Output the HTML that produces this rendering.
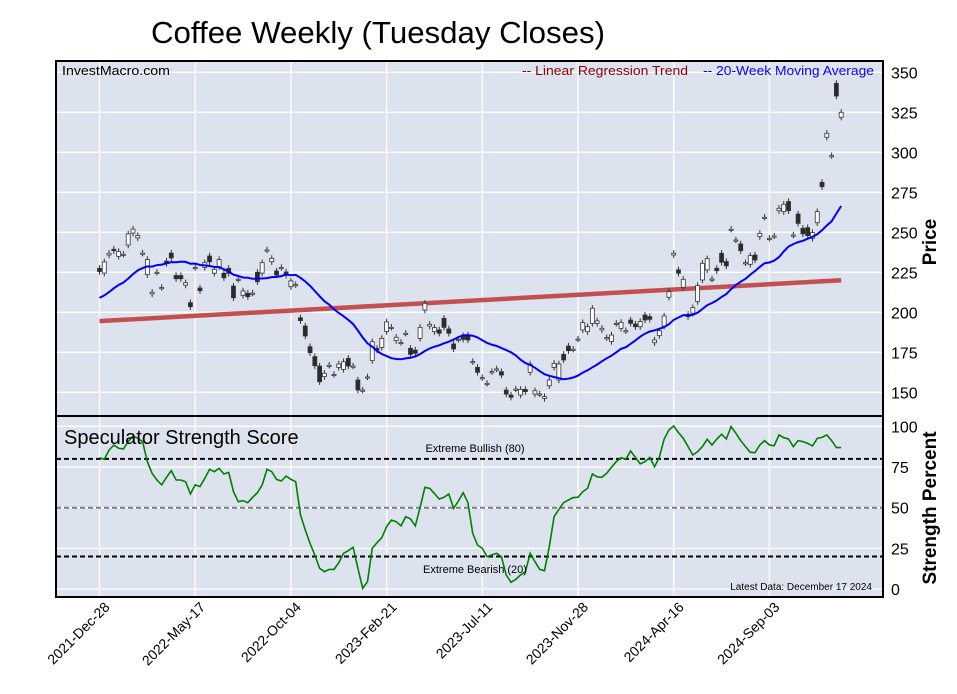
<!DOCTYPE html>
<html><head><meta charset="utf-8"><style>
html,body{margin:0;padding:0;background:#fff;}
svg{display:block;font-family:"Liberation Sans",Arial,sans-serif;}
</style></head><body>
<svg id="chart" width="957" height="694" viewBox="0 0 957 694" xmlns="http://www.w3.org/2000/svg">
<text x="151" y="43" font-size="31" textLength="454" lengthAdjust="spacingAndGlyphs">Coffee Weekly (Tuesday Closes)</text>
<rect x="56" y="61" width="827" height="355" fill="#dde3ee"/>
<rect x="56" y="416" width="827" height="181" fill="#dde3ee"/>
<g id="grid"></g>
<g id="marks"></g>
<rect x="56" y="61" width="827" height="355" fill="none" stroke="#000" stroke-width="2"/>
<rect x="56" y="416" width="827" height="181" fill="none" stroke="#000" stroke-width="2"/>
<text x="62" y="75" font-size="13" textLength="108" lengthAdjust="spacingAndGlyphs">InvestMacro.com</text>
<text x="522" y="75" font-size="13" fill="#8b0000" textLength="166" lengthAdjust="spacingAndGlyphs">-- Linear Regression Trend</text>
<text x="703" y="75" font-size="13" fill="#0000ff" textLength="171" lengthAdjust="spacingAndGlyphs">-- 20-Week Moving Average</text>
<text x="64" y="444" font-size="20">Speculator Strength Score</text>
<text x="475" y="452" font-size="11" text-anchor="middle">Extreme Bullish (80)</text>
<text x="475" y="573" font-size="11" text-anchor="middle">Extreme Bearish (20)</text>
<text x="872" y="590" font-size="10" text-anchor="end">Latest Data: December 17 2024</text>
<text transform="translate(936,242) rotate(-90)" font-size="19" font-weight="bold" text-anchor="middle">Price</text>
<text transform="translate(936,508) rotate(-90)" font-size="19" font-weight="bold" text-anchor="middle">Strength Percent</text>
</svg>
<script>
const opens=[227.5,224.5,235.8,239.4,235,236.3,242,249.5,246.5,237,223.5,211.5,225,215.5,232,237,223,223,217,206,228,215.2,228.1,235.2,224.4,228.5,224.4,227.5,216.4,220.6,210.6,211.9,212,225,224.5,239,231.6,225.8,228,225.2,216,217.3,196.6,191.4,178.5,172.3,166.4,159.8,166.9,161.2,165.6,164.3,171.2,166.4,157.7,151.4,159.6,169.8,177.5,178,188,190.6,182.3,181.2,186.9,177.5,176.4,183.7,201.4,191.4,187.9,189,196.2,189.6,180.2,183.1,185.4,185.8,169.2,165.6,159.2,155.6,162.9,164.6,162.9,151.4,148.3,152,148.3,151.8,162.5,148.9,149,146.2,154.1,165.6,157.7,173.7,178.9,176.9,183.3,189,187.9,193.1,193.1,189,184.2,181.7,193.1,190,188.5,195.2,192.7,191,198.3,197.3,181,185.4,191.4,209.4,235.8,226.5,215.6,198.7,199.4,206.7,220.2,226.5,220.8,227.5,236.9,231.7,251.9,245.2,242.7,231,230,235.8,247.3,259.4,246.2,247.7,263.5,262.9,269.2,248.3,261.4,252.5,252.9,246.2,256,281.2,309.4,297.9,343.1,321.9];
const closes=[225.5,231.5,236.9,238.5,238,236.3,249,252,248,237,233,212.5,225,215.5,230.5,234,221,221,218.5,203.5,228,213.5,231,231.6,226.9,233,221.6,224.4,209.1,220.6,213.3,209.8,212,219.1,231,239,233.7,223.3,228,223.1,219.6,217.3,194.8,185.2,174.8,166.6,156.6,161.9,166.9,161.2,167.7,169.1,166.4,166.4,151.4,151.4,159.6,181.6,176.4,183.7,194,190.6,184.4,181.2,186.9,173.7,174.4,190.6,205.6,192.5,190.4,186.9,190.6,186.9,177.1,183.1,183.1,182.7,169.2,162.5,159.2,155.6,162.9,164.6,160.8,148.9,146.9,152,151.8,150.4,167.7,151,149,147.3,157.7,168.1,167.7,170.2,176,176.9,183.3,193.5,191,202.5,194.6,190,184.2,185.8,193.1,193.7,188.5,193.1,191,194.2,195.2,195.6,182.7,188.5,197.7,212.9,236.9,224.4,220.6,197.3,202.9,216.7,230.6,233.5,220.8,226,231.3,229,251.9,245.2,238.5,231,235.4,232.7,249.4,259.4,246.2,247.7,265,267.5,263.5,248.3,255.6,249,247.9,249.8,262.9,278.5,311.9,297.9,335.2,325];
const priorCloses=[200,195,190,198,205,200,196,202,208,212,215,206,210,215,218,222,214,222,226];
const trendEnds=[194.5,220];
const strength=[80.7,79.7,85.4,88.5,86.5,86.1,90.6,94.0,92.6,90.6,78.3,71.1,67.0,64.0,68.7,72.7,67.0,67.0,66.0,58.4,64.0,63.0,68.0,73.6,72.1,74.2,70.7,71.7,59.8,53.7,54.3,53.1,56.4,59.2,64.0,73.6,72.1,67.4,66.4,69.5,67.4,66.0,45.5,36.3,28.1,21.0,12.8,10.7,12.1,12.1,16.2,22.0,23.6,25.7,12.8,0.5,4.6,25.0,28.5,31.6,38.4,42.4,41.4,38.8,44.5,43.1,38.8,50.2,62.5,61.9,58.8,55.3,56.4,58.4,49.6,54.1,59.2,53.1,34.3,27.1,25.0,19.9,21.0,22.0,19.9,8.7,4.2,6.0,8.7,10.7,22.0,16.9,12.1,11.3,26.1,44.5,49.0,53.1,54.7,56.2,56.4,59.8,61.9,70.7,69.0,68.7,71.1,74.8,78.3,80.7,79.7,84.8,80.9,76.9,78.3,80.9,75.2,80.9,92.0,97.7,100.2,96.1,92.6,87.5,82.4,84.4,87.5,92.0,88.5,92.2,95.1,92.2,99.8,95.7,91.2,87.5,84.0,83.8,88.5,91.2,88.5,88.1,94.7,93.0,92.2,87.5,91.2,90.6,89.5,87.9,92.6,93.2,94.7,91.2,86.9,86.9];
const priceTicks=[150,175,200,225,250,275,300,325,350];
const strengthTicks=[0,25,50,75,100];
const dateLabels=["2021-Dec-28","2022-May-17","2022-Oct-04","2023-Feb-21","2023-Jul-11","2023-Nov-28","2024-Apr-16","2024-Sep-03"];
const dateWeekIdx=[0,20,40,60,80,100,120,140];

const NS="http://www.w3.org/2000/svg";
const svg=document.getElementById('chart');
const grid=document.getElementById('grid');
const marks=document.getElementById('marks');
function xw(i){return 99.5+i*4.785;}
function yp(p){return 232.3-(p-250)*1.6;}
function ys(s){return 507.7-(s-50)*1.628;}
function mk(tag,attrs,parent){const e=document.createElementNS(NS,tag);for(const k in attrs)e.setAttribute(k,attrs[k]);(parent||svg).appendChild(e);return e;}

priceTicks.forEach(p=>{
  const l=mk('line',{x1:56,x2:883,y1:yp(p),y2:yp(p),stroke:'#fff','stroke-width':1.3},grid);
  
  
  const t=mk('text',{x:891,y:yp(p)+6,'font-size':16});
  
  
  t.textContent=p;
});
strengthTicks.forEach(s=>{
  const l=mk('line',{x1:56,x2:883,y1:ys(s),y2:ys(s),stroke:'#fff','stroke-width':1.3},grid);
  
  
  const t=mk('text',{x:891,y:ys(s)+6,'font-size':16});
  
  
  t.textContent=s;
});
dateWeekIdx.forEach((w,k)=>{
  const x=xw(w);
  const l=mk('line',{x1:x,x2:x,y1:61,y2:597,stroke:'#fff','stroke-width':1.3},grid);
  
  
  const t=mk('text',{x:0,y:0,'font-size':14,'text-anchor':'end',transform:`translate(${x+11},${608}) rotate(-45)`});
  
  
  t.textContent=dateLabels[k];
});
[[80,'#000'],[50,'#808080'],[20,'#000']].forEach(([s,c])=>{
  const l=mk('line',{x1:56,x2:883,y1:ys(s),y2:ys(s),stroke:c,'stroke-width':2,'stroke-dasharray':'5,3'},marks);
  
  
});
const n=closes.length;
const reg=mk('line',{x1:xw(0),x2:xw(n-1),y1:yp(trendEnds[0]),y2:yp(trendEnds[1]),stroke:'#c44f4f','stroke-width':4.5},marks);


closes.forEach((c,i)=>{
  const o=opens[i];
  const hi=Math.max(o,c)+2, lo=Math.min(o,c)-2;
  const x=xw(i);
  const g=mk('g',{},marks);
  
  
  mk('line',{x1:x,x2:x,y1:yp(hi),y2:yp(lo),stroke:'#333','stroke-width':1},g);
  const top=yp(Math.max(o,c)), h=Math.max(1.2,yp(Math.min(o,c))-top);
  mk('rect',{x:x-2,y:top,width:4,height:h,fill:c>=o?'#fff':'#2b2b2b',stroke:'#333','stroke-width':0.8},g);
});
const all=priorCloses.concat(closes);
let d='';
closes.forEach((c,i)=>{
  let s=0;for(let k=i;k<i+20;k++)s+=all[k];
  const m=s/20;
  d+=(i?'L':'M')+xw(i).toFixed(1)+','+yp(m).toFixed(1);
});
const ma=mk('path',{d:d,fill:'none',stroke:'#0000ff','stroke-width':2},marks);


let d2='';
strength.forEach((s,i)=>{d2+=(i?'L':'M')+xw(i).toFixed(1)+','+ys(s).toFixed(1);});
const sl=mk('path',{d:d2,fill:'none',stroke:'#008000','stroke-width':1.6},marks);


</script>
</body></html>
